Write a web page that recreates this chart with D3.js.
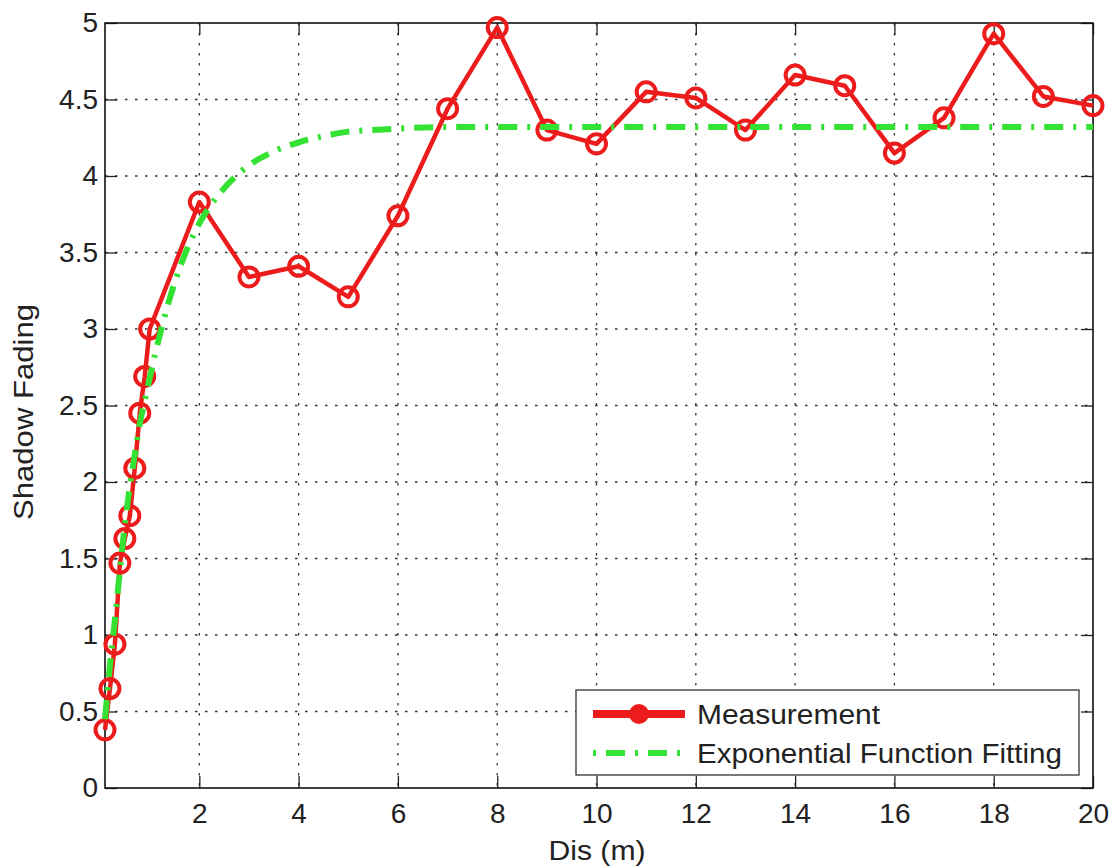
<!DOCTYPE html>
<html>
<head>
<meta charset="utf-8">
<script src="https://cdn.jsdelivr.net/npm/d3@7"></script>
<style>
  html, body { margin: 0; padding: 0; background: #fff; }
  svg { display: block; }
  text { font-family: "Liberation Sans", Arial, Helvetica, sans-serif; fill: #222; }
</style>
</head>
<body>
<script>
// ---- Data ----
const measX = [0.1, 0.2, 0.3, 0.4, 0.5, 0.6, 0.7, 0.8, 0.9, 1.0,
               2, 3, 4, 5, 6, 7, 8, 9, 10, 11, 12, 13, 14, 15, 16, 17, 18, 19, 20];
const measY = [0.38, 0.65, 0.94, 1.47, 1.63, 1.78, 2.09, 2.45, 2.69, 3.0,
               3.83, 3.34, 3.41, 3.21, 3.74, 4.44, 4.97, 4.30, 4.21, 4.55, 4.51, 4.30, 4.66, 4.59, 4.15, 4.38, 4.93, 4.52, 4.46];
const fitX = [0.1, 0.2, 0.3, 0.4, 0.5, 0.6, 0.7, 0.8, 0.9, 1.0, 1.25, 1.5, 1.75, 2, 2.5, 3, 3.5, 4, 4.5, 5, 5.5, 6, 7, 8, 10, 12, 14, 16, 18, 20];
const fitY = [0.45, 0.8, 1.1, 1.42, 1.72, 1.97, 2.18, 2.38, 2.53, 2.68, 3.02, 3.3, 3.52, 3.69, 3.92, 4.07, 4.16, 4.22, 4.26, 4.29, 4.30, 4.31, 4.32, 4.32, 4.32, 4.32, 4.32, 4.32, 4.32, 4.32];
const xTicks = [2, 4, 6, 8, 10, 12, 14, 16, 18, 20];
const yTicks = [0, 0.5, 1, 1.5, 2, 2.5, 3, 3.5, 4, 4.5, 5];
const seriesNames = ["Measurement", "Exponential Function Fitting"];
const xLabel = "Dis (m)";
const yLabel = "Shadow Fading";

// ---- Layout ----
const W = 1115, H = 867;
const L = 105, R = 1093, T = 23, B = 788;
const RED = "#ec1c1c", GREEN = "#33e233";

const svg = d3.select("body").append("svg").attr("width", W).attr("height", H);
svg.append("rect").attr("width", W).attr("height", H).attr("fill", "#fff");

const x = d3.scaleLinear().domain([0.1, 20]).range([L, R]);
const y = d3.scaleLinear().domain([0, 5]).range([B, T]);

// grid
const grid = svg.append("g");
grid.selectAll("line.vx").data(xTicks.filter(d => d < 20)).join("line")
  .attr("x1", d => x(d)).attr("x2", d => x(d)).attr("y1", T).attr("y2", B)
  .attr("stroke", "#333").attr("stroke-width", 1.3).attr("stroke-dasharray", "2.5,7.5");
grid.selectAll("line.hy").data(yTicks.filter(d => d > 0 && d < 5)).join("line")
  .attr("y1", d => y(d)).attr("y2", d => y(d)).attr("x1", L).attr("x2", R)
  .attr("stroke", "#333").attr("stroke-width", 1.3).attr("stroke-dasharray", "2.5,7.5");

// axes (MATLAB style, inward ticks on all four sides)
const fmt = d => String(d);
const axB = svg.append("g").attr("transform", `translate(0,${B})`)
  .call(d3.axisBottom(x).tickValues(xTicks).tickSizeInner(-12).tickSizeOuter(0).tickPadding(15).tickFormat(fmt));
const axT = svg.append("g").attr("transform", `translate(0,${T})`)
  .call(d3.axisTop(x).tickValues(xTicks).tickSizeInner(-12).tickSizeOuter(0).tickFormat(""));
const axL = svg.append("g").attr("transform", `translate(${L},0)`)
  .call(d3.axisLeft(y).tickValues(yTicks).tickSizeInner(-12).tickSizeOuter(0).tickPadding(7).tickFormat(fmt));
const axR = svg.append("g").attr("transform", `translate(${R},0)`)
  .call(d3.axisRight(y).tickValues(yTicks).tickSizeInner(-12).tickSizeOuter(0).tickFormat(""));
[axB, axT, axL, axR].forEach(a => {
  a.select(".domain").remove();
  a.selectAll(".tick line").attr("stroke", "#222").attr("stroke-width", 1.3);
  a.selectAll("text").attr("font-size", 28).attr("fill", "#222")
    .attr("font-family", "'Liberation Sans', Arial, sans-serif");
});
axB.selectAll("text").attr("dy", "0.71em");

// box
svg.append("rect").attr("x", L).attr("y", T).attr("width", R - L).attr("height", B - T)
  .attr("fill", "none").attr("stroke", "#111").attr("stroke-width", 1.6);

// measurement line
const meas = measX.map((d, i) => ({ x: d, y: measY[i] }));
const fit = fitX.map((d, i) => ({ x: d, y: fitY[i] }));
const line = d3.line().x(d => x(d.x)).y(d => y(d.y));
svg.append("path").datum(meas).attr("d", line)
  .attr("fill", "none").attr("stroke", RED).attr("stroke-width", 4.5).attr("stroke-linejoin", "round");
svg.append("g").selectAll("circle").data(meas).join("circle")
  .attr("cx", d => x(d.x)).attr("cy", d => y(d.y)).attr("r", 9.5)
  .attr("fill", "none").attr("stroke", RED).attr("stroke-width", 4);

// fit line
const fitLine = d3.line().x(d => x(d.x)).y(d => y(d.y)).curve(d3.curveMonotoneX);
svg.append("path").datum(fit).attr("d", fitLine)
  .attr("fill", "none").attr("stroke", GREEN).attr("stroke-width", 6)
  .attr("stroke-dasharray", "19,10,3,10");

// labels
svg.append("text").attr("x", 597).attr("y", 860).attr("text-anchor", "middle")
  .attr("font-size", 27).attr("textLength", 97).attr("lengthAdjust", "spacingAndGlyphs").text(xLabel);
svg.append("text").attr("transform", "translate(33,412) rotate(-90)").attr("text-anchor", "middle")
  .attr("font-size", 28).attr("textLength", 216).attr("lengthAdjust", "spacingAndGlyphs").text(yLabel);

// legend
const lg = svg.append("g");
lg.append("rect").attr("x", 576).attr("y", 690).attr("width", 503).attr("height", 85)
  .attr("fill", "#fff").attr("stroke", "#333").attr("stroke-width", 1.3);
lg.append("line").attr("x1", 593).attr("x2", 685).attr("y1", 714).attr("y2", 714)
  .attr("stroke", RED).attr("stroke-width", 8);
lg.append("circle").attr("cx", 639).attr("cy", 714).attr("r", 8.5)
  .attr("fill", RED).attr("stroke", RED).attr("stroke-width", 3);
lg.append("line").attr("x1", 593).attr("x2", 685).attr("y1", 753).attr("y2", 753)
  .attr("stroke", GREEN).attr("stroke-width", 6).attr("stroke-dasharray", "3,10,19,10");
lg.append("text").attr("x", 697).attr("y", 724).attr("font-size", 27)
  .attr("textLength", 183).attr("lengthAdjust", "spacingAndGlyphs").text(seriesNames[0]);
lg.append("text").attr("x", 697).attr("y", 763).attr("font-size", 27)
  .attr("textLength", 365).attr("lengthAdjust", "spacingAndGlyphs").text(seriesNames[1]);
</script>
</body>
</html>
